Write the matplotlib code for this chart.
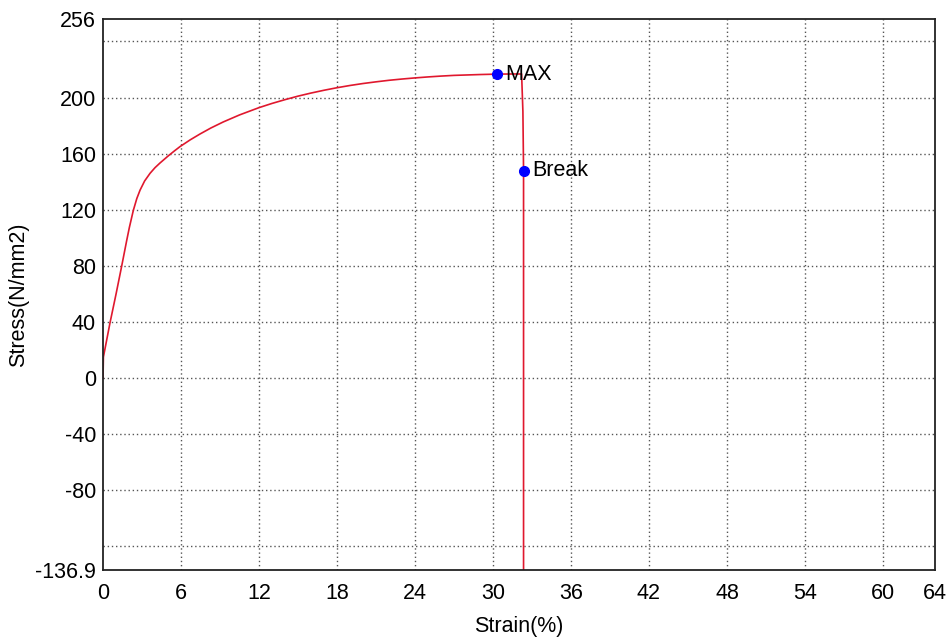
"""Stress-strain curve with MAX and Break points."""

import matplotlib.pyplot as plt

plt.rcParams["font.family"] = ["Liberation Sans", "DejaVu Sans"]

# curve
STRAIN = [0, 0.03, 0.54, 1.0, 1.44, 1.82, 2.03, 2.33, 2.6, 2.85, 3.2, 3.62,
          4.0, 4.38, 5.03, 5.5, 5.92, 6.7, 7.46, 8.3, 9.25, 10.5, 12.0, 13.0,
          14.0, 15.0, 16.0, 17.0, 18.0, 19.0, 20.0, 21.0, 22.0, 23.0, 24.0,
          25.0, 26.0, 27.0, 28.0, 29.0, 30.33, 31.5, 32.2, 32.3, 32.35, 32.35]
STRESS = [0, 15, 39.5, 59.8, 80, 98, 107.5, 119.5, 128, 134, 140.5, 146,
          150, 153.3, 158.5, 162, 165, 169.8, 174, 178.3, 182.6, 187.6,
          192.8, 195.8, 198.5, 201, 203.2, 205.2, 207, 208.6, 210, 211.2,
          212.3, 213.2, 214, 214.7, 215.3, 215.8, 216.1, 216.4, 216.7, 216.8,
          216.8, 190, 147.9, -140]

MAX_PT = (30.33, 216.7)
BREAK_PT = (32.35, 147.9)

X_TICKS = [0, 6, 12, 18, 24, 30, 36, 42, 48, 54, 60, 64]
X_GRID = [6, 12, 18, 24, 30, 36, 42, 48, 54, 60]
Y_TICKS = [-136.9, -80, -40, 0, 40, 80, 120, 160, 200, 256]
Y_TICK_LABELS = ["-136.9", "-80", "-40", "0", "40", "80", "120", "160", "200", "256"]
Y_GRID = [-120, -80, -40, 0, 40, 80, 120, 160, 200, 240]

FS = 15.5

fig = plt.figure(figsize=(9.53, 6.42), dpi=100)
ax = fig.add_axes([0.1081, 0.1121, 0.8730, 0.8583])

for x in X_GRID:
    ax.axvline(x, color="#555555", linestyle=(0, (1, 2)), linewidth=1.0, zorder=0)
for y in Y_GRID:
    ax.axhline(y, color="#555555", linestyle=(0, (1, 2)), linewidth=1.0, zorder=0)

ax.plot(STRAIN, STRESS, color="#e0182e", linewidth=1.2, zorder=2)

ax.plot(*MAX_PT, "o", color="#0000ff", markersize=7, zorder=3)
ax.plot(*BREAK_PT, "o", color="#0000ff", markersize=7, zorder=3)
ax.annotate("MAX", MAX_PT, xytext=(6, 0), textcoords="offset points",
            va="center", fontsize=FS)
ax.annotate("Break", BREAK_PT, xytext=(6, 0), textcoords="offset points",
            va="center", fontsize=FS)

ax.set_xlim(0, 64)
ax.set_ylim(-136.9, 256)
ax.set_xticks(X_TICKS)
ax.set_xticklabels([str(v) for v in X_TICKS])
ax.set_yticks(Y_TICKS)
ax.set_yticklabels(Y_TICK_LABELS)
ax.tick_params(length=0, labelsize=FS)
ax.tick_params(axis="x", pad=9)
ax.tick_params(axis="y", pad=5)

for s in ax.spines.values():
    s.set_linewidth(1.3)
    s.set_color("#222222")

ax.set_xlabel("Strain(%)", fontsize=FS)
ax.xaxis.set_label_coords(0.5, -0.084)
ax.set_ylabel("Stress(N/mm2)", fontsize=FS)
ax.yaxis.set_label_coords(-0.089, 0.5)

fig.savefig("out.png", dpi=100)
